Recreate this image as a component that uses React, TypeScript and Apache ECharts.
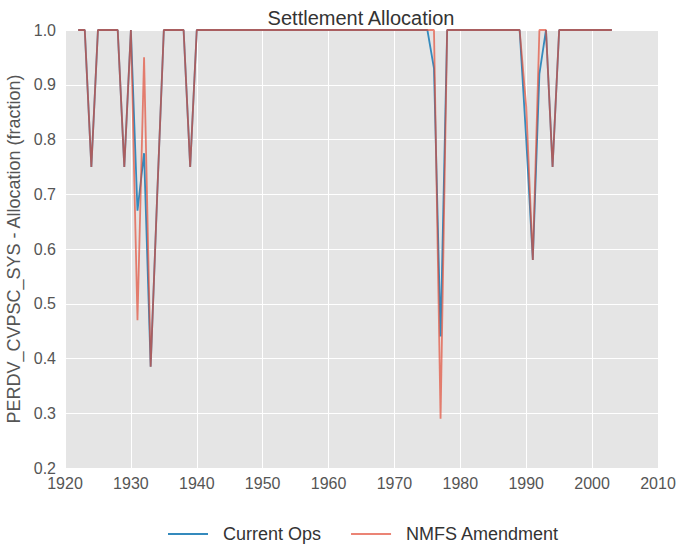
import React, { useEffect, useRef } from "react";
import * as echarts from "echarts";

const years: number[] = [
  1922, 1923, 1924, 1925, 1926, 1927, 1928, 1929, 1930, 1931,
  1932, 1933, 1934, 1935, 1936, 1937, 1938, 1939, 1940, 1941,
  1942, 1943, 1944, 1945, 1946, 1947, 1948, 1949, 1950, 1951,
  1952, 1953, 1954, 1955, 1956, 1957, 1958, 1959, 1960, 1961,
  1962, 1963, 1964, 1965, 1966, 1967, 1968, 1969, 1970, 1971,
  1972, 1973, 1974, 1975, 1976, 1977, 1978, 1979, 1980, 1981,
  1982, 1983, 1984, 1985, 1986, 1987, 1988, 1989, 1990, 1991,
  1992, 1993, 1994, 1995, 1996, 1997, 1998, 1999, 2000, 2001,
  2002, 2003,
];

const currentOps: number[] = [
  1, 1, 0.75, 1, 1, 1, 1, 0.75, 1, 0.67,
  0.775, 0.385, 0.7, 1, 1, 1, 1, 0.75, 1, 1,
  1, 1, 1, 1, 1, 1, 1, 1, 1, 1,
  1, 1, 1, 1, 1, 1, 1, 1, 1, 1,
  1, 1, 1, 1, 1, 1, 1, 1, 1, 1,
  1, 1, 1, 1, 0.93, 0.44, 1, 1, 1, 1,
  1, 1, 1, 1, 1, 1, 1, 1, 0.8, 0.58,
  0.92, 1, 0.75, 1, 1, 1, 1, 1, 1, 1,
  1, 1,
];

const nmfsAmendment: number[] = [
  1, 1, 0.75, 1, 1, 1, 1, 0.75, 1, 0.47,
  0.95, 0.385, 0.7, 1, 1, 1, 1, 0.75, 1, 1,
  1, 1, 1, 1, 1, 1, 1, 1, 1, 1,
  1, 1, 1, 1, 1, 1, 1, 1, 1, 1,
  1, 1, 1, 1, 1, 1, 1, 1, 1, 1,
  1, 1, 1, 1, 1, 0.29, 1, 1, 1, 1,
  1, 1, 1, 1, 1, 1, 1, 1, 0.86, 0.58,
  1, 1, 0.75, 1, 1, 1, 1, 1, 1, 1,
  1, 1,
];

const seriesNames: string[] = ["Current Ops", "NMFS Amendment"];
const titleText = "Settlement Allocation";
const yAxisTitle = "PERDV_CVPSC_SYS - Allocation (fraction)";

const FONT = "'Liberation Sans', Arial, Helvetica, sans-serif";
const BLUE = "#348ABD";
const RED = "#E24A33";
const RED_ALPHA = 0.68;

export default function App() {
  const ref = useRef<HTMLDivElement>(null);

  useEffect(() => {
    if (!ref.current) return;
    const chart = echarts.init(ref.current, null, { renderer: "svg" });
    const pair = (vals: number[]) => years.map((y, i) => [y, vals[i]]);
    chart.setOption({
      animation: false,
      backgroundColor: "#ffffff",
      textStyle: { fontFamily: FONT },
      title: {
        text: titleText,
        left: 356,
        textAlign: "center",
        top: 3,
        textStyle: { fontFamily: FONT, fontSize: 20, fontWeight: "normal", color: "#333333" },
      },
      legend: {
        top: 520,
        left: 163,
        icon: "rect",
        itemWidth: 40,
        itemHeight: 2,
        itemGap: 30,
        textStyle: { fontFamily: FONT, fontSize: 18, color: "#333333", padding: [0, 0, 0, 10] },
        data: [
          { name: seriesNames[0], itemStyle: { color: BLUE } },
          { name: seriesNames[1], itemStyle: { color: RED, opacity: RED_ALPHA } },
        ],
      },
      grid: {
        left: 65,
        right: 22,
        top: 30,
        bottom: 78,
        show: true,
        backgroundColor: "#E5E5E5",
        borderWidth: 0,
        containLabel: false,
        outerBoundsMode: "none",
      },
      xAxis: {
        type: "value",
        min: 1920,
        max: 2010,
        interval: 10,
        axisLine: { show: false },
        axisTick: { show: false },
        splitLine: { show: true, lineStyle: { color: "#ffffff", width: 1 } },
        axisLabel: {
          color: "#555555",
          fontSize: 16,
          fontFamily: FONT,
          margin: 7,
          formatter: (v: number) => String(v),
        },
      },
      yAxis: {
        type: "value",
        min: 0.2,
        max: 1.0,
        interval: 0.1,
        name: yAxisTitle,
        nameLocation: "middle",
        nameGap: 41,
        nameTextStyle: { color: "#555555", fontSize: 18, fontFamily: FONT },
        axisLine: { show: false },
        axisTick: { show: false },
        splitLine: { show: true, lineStyle: { color: "#ffffff", width: 1 } },
        axisLabel: {
          color: "#555555",
          fontSize: 16,
          fontFamily: FONT,
          margin: 9,
          formatter: (v: number) => v.toFixed(1),
        },
      },
      series: [
        {
          name: seriesNames[0],
          type: "line",
          data: pair(currentOps),
          symbol: "none",
          lineStyle: { color: BLUE, width: 1.8 },
          itemStyle: { color: BLUE },
        },
        {
          name: seriesNames[1],
          type: "line",
          data: pair(nmfsAmendment),
          symbol: "none",
          lineStyle: { color: RED, width: 1.8, opacity: RED_ALPHA },
          itemStyle: { color: RED, opacity: RED_ALPHA },
        },
      ],
    });
    return () => chart.dispose();
  }, []);

  return (
    <div
      ref={ref}
      style={{ position: "fixed", left: 0, top: 0, width: 680, height: 546 }}
    />
  );
}
